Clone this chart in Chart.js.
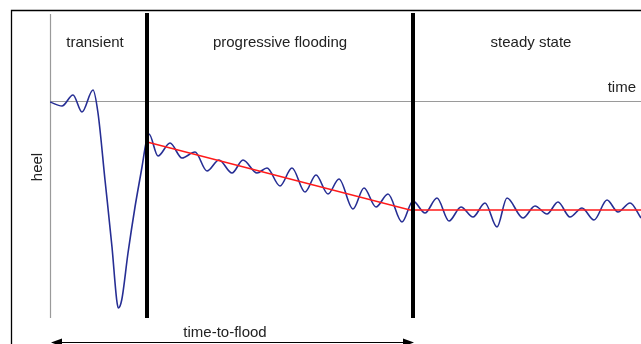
<!DOCTYPE html>
<html>
<head>
<meta charset="utf-8">
<script src="https://cdn.jsdelivr.net/npm/chart.js@4"></script>
<style>
html,body{margin:0;padding:0;background:#fff;}
#wrap{position:relative;width:641px;height:344px;}
</style>
</head>
<body>
<div id="wrap"><canvas id="c"></canvas></div>
<script>
// time (arbitrary units) and heel (arbitrary units)
const heelTime = [0,12,23,32,43,48,55,62,66.7,68.3,71.7,78,85,92,96,99,
  108,120,132,145,157,169,182,193,207,217,230,242,255,266,278,289,303,314,326,338,352,363,
  375,387,399,411,423,435,447,457,473,485,497,508,520,532,544,557,568,580,591];
const heelValue = [-0.1,-0.5,0.6,-1.1,1.1,-1.2,-7.9,-14.6,-19.9,-20.7,-19.9,-15.2,-10.6,-6.6,-4.2,-3.3,
  -5.5,-4.2,-5.7,-5.1,-7.0,-5.9,-7.2,-5.9,-7.2,-6.7,-8.5,-6.7,-9.1,-7.4,-9.3,-7.8,-10.8,-8.7,-10.6,-9.3,-12.1,-10.0,
  -11.2,-9.7,-12.0,-10.6,-11.6,-10.2,-12.6,-9.7,-11.7,-10.5,-11.3,-10.1,-11.6,-10.7,-11.9,-9.9,-11.1,-10.2,-11.7];
const trendTime = [97, 360, 591];
const trendValue = [-4.1, -10.9, -10.9];
const phaseBounds = [97, 363];
const phaseLabels = ["transient", "progressive flooding", "steady state"];
const phaseLabelTime = [45, 230, 481];
const phaseLabelHeel = 5.8;
const timeRange = [0, 591];
const heelRange = [-21.7, 8.7];
const floodArrow = [0, 364];
const floodLabel = "time-to-flood";
const axisLabelTime = "time";
const axisLabelHeel = "heel";

const toPts = (xs, ys) => xs.map((x, i) => ({x: x, y: ys[i]}));
const FONT = '15px "Liberation Sans", Arial, sans-serif';
const TXT = '#222';

const decor = {
  id: 'decor',
  beforeDraw(chart) {
    const ctx = chart.ctx;
    ctx.save();
    ctx.strokeStyle = '#000';
    ctx.lineWidth = 1.3;
    ctx.beginPath();
    ctx.moveTo(11.5, 344);
    ctx.lineTo(11.5, 10.5);
    ctx.lineTo(641, 10.5);
    ctx.stroke();
    ctx.restore();
  },
  beforeDatasetsDraw(chart) {
    const {ctx, chartArea: a, scales: {x, y}} = chart;
    ctx.save();
    ctx.strokeStyle = '#9a9a9a';
    ctx.lineWidth = 1.2;
    const x0 = Math.round(x.getPixelForValue(0)) + 0.5;
    const y0 = Math.round(y.getPixelForValue(0)) + 0.5;
    ctx.beginPath();
    ctx.moveTo(x0, a.top); ctx.lineTo(x0, a.bottom);
    ctx.moveTo(x0, y0); ctx.lineTo(a.right, y0);
    ctx.stroke();
    ctx.restore();
  },
  afterDatasetsDraw(chart) {
    const {ctx, chartArea: a, scales: {x, y}} = chart;
    ctx.save();
    ctx.strokeStyle = '#000';
    ctx.lineWidth = 4;
    phaseBounds.forEach(t => {
      const px = x.getPixelForValue(t);
      ctx.beginPath();
      ctx.moveTo(px, a.top - 1);
      ctx.lineTo(px, a.bottom);
      ctx.stroke();
    });
    ctx.fillStyle = TXT;
    ctx.font = FONT;
    ctx.textAlign = 'center';
    ctx.textBaseline = 'middle';
    phaseLabels.forEach((s, i) => {
      ctx.fillText(s, x.getPixelForValue(phaseLabelTime[i]), y.getPixelForValue(phaseLabelHeel));
    });
    ctx.textAlign = 'right';
    ctx.fillText(axisLabelTime, a.right - 5, y.getPixelForValue(0) - 13);
    ctx.save();
    ctx.translate(a.left - 12, y.getPixelForValue(-6.6));
    ctx.rotate(-Math.PI / 2);
    ctx.textAlign = 'center';
    ctx.fillText(axisLabelHeel, 0, 0);
    ctx.restore();
    const ax0 = x.getPixelForValue(floodArrow[0]) + 1;
    const ax1 = x.getPixelForValue(floodArrow[1]);
    const ay = a.bottom + 24.5;
    ctx.strokeStyle = '#000';
    ctx.lineWidth = 1;
    ctx.beginPath();
    ctx.moveTo(ax0 + 6, ay); ctx.lineTo(ax1 - 6, ay);
    ctx.stroke();
    ctx.fillStyle = '#000';
    ctx.beginPath();
    ctx.moveTo(ax0, ay); ctx.lineTo(ax0 + 11, ay - 4); ctx.lineTo(ax0 + 11, ay + 4); ctx.closePath();
    ctx.fill();
    ctx.beginPath();
    ctx.moveTo(ax1, ay); ctx.lineTo(ax1 - 11, ay - 4); ctx.lineTo(ax1 - 11, ay + 4); ctx.closePath();
    ctx.fill();
    ctx.fillStyle = TXT;
    ctx.textAlign = 'center';
    ctx.fillText(floodLabel, x.getPixelForValue((floodArrow[0] + floodArrow[1]) / 2) - 7, a.bottom + 15);
    ctx.restore();
  }
};

new Chart(document.getElementById('c'), {
  type: 'line',
  data: {
    datasets: [
      {
        label: 'trend',
        data: toPts(trendTime, trendValue),
        borderColor: '#ff1a1a',
        borderWidth: 1.4,
        pointRadius: 0,
        tension: 0,
        fill: false
      },
      {
        label: 'heel',
        data: toPts(heelTime, heelValue),
        borderColor: '#262e94',
        borderWidth: 1.6,
        pointRadius: 0,
        cubicInterpolationMode: 'monotone',
        fill: false
      }
    ]
  },
  options: {
    responsive: true,
    maintainAspectRatio: false,
    animation: false,
    events: [],
    layout: {padding: {left: 50, top: 14, right: 0, bottom: 26}},
    plugins: {legend: {display: false}, tooltip: {enabled: false}, title: {display: false}},
    scales: {
      x: {type: 'linear', display: false, min: timeRange[0], max: timeRange[1]},
      y: {type: 'linear', display: false, min: heelRange[0], max: heelRange[1]}
    }
  },
  plugins: [decor]
});
</script>
</body>
</html>
